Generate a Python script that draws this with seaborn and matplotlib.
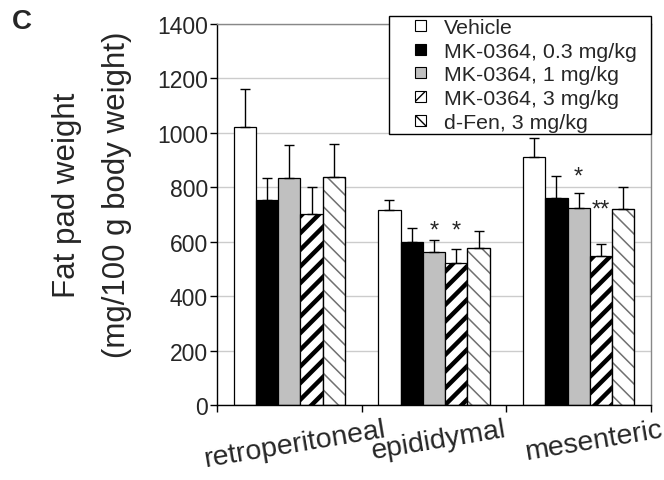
import pandas as pd
import seaborn as sns
import matplotlib.pyplot as plt
from matplotlib.patches import Patch, Rectangle
from matplotlib.legend_handler import HandlerPatch
from matplotlib.transforms import ScaledTranslation

depots = ['retroperitoneal', 'epididymal', 'mesenteric']
groups = ['Vehicle', 'MK-0364, 0.3 mg/kg', 'MK-0364, 1 mg/kg', 'MK-0364, 3 mg/kg', 'd-Fen, 3 mg/kg']

# mean fat pad weight per group, one list per depot (mg/100 g bw)
retro_mean = [1020, 753, 835, 702, 839]
epid_mean = [717, 598, 564, 523, 578]
mes_mean = [913, 762, 725, 547, 720]

# SEM (upper error bar only)
retro_sem = [142, 82, 119, 100, 120]
epid_sem = [35, 54, 42, 52, 63]
mes_sem = [68, 81, 55, 44, 82]

# significance marks: depot, group, label, baseline height
star_depot = ['epididymal', 'epididymal', 'mesenteric', 'mesenteric']
star_group = ['MK-0364, 1 mg/kg', 'MK-0364, 3 mg/kg', 'MK-0364, 1 mg/kg', 'MK-0364, 3 mg/kg']
star_label = ['*', '*', '*', '**']
star_y = [620, 620, 819, 698]

rows = []
for d, means, sems in zip(depots, [retro_mean, epid_mean, mes_mean], [retro_sem, epid_sem, mes_sem]):
    for g, m, s in zip(groups, means, sems):
        rows.append({'depot': d, 'group': g, 'weight': m, 'sem': s})
df = pd.DataFrame(rows)

sns.set_style('white')
plt.rcParams['font.family'] = ['Liberation Sans', 'DejaVu Sans']
plt.rcParams['hatch.linewidth'] = 1.0

fig = plt.figure(figsize=(6.64, 4.81), dpi=100)
ax = fig.add_axes([217/664, 75/481, 434/664, 381/481])

face = ['white', 'black', '#c0c0c0', 'white', 'white']
sns.barplot(data=df, x='depot', y='weight', hue='group', order=depots, hue_order=groups,
            palette=face, saturation=1, width=0.77, errorbar=None, legend=False,
            edgecolor='black', linewidth=0.9, ax=ax)

bar_conts = list(ax.containers)
hatches = [None, None, None, '//', '\\\\']
hatch_lw = [1, 1, 1, 3.2, 1.1]
for i, cont in enumerate(bar_conts):
    for j, bar in enumerate(cont):
        if hatches[i]:
            bar.set_hatch(hatches[i])
            if hasattr(bar, 'set_hatch_linewidth'):
                bar.set_hatch_linewidth(hatch_lw[i])
        if i == 4:
            # grey hatch, black outline drawn on top
            bar.set_edgecolor('#707070')
            ax.add_patch(Rectangle(bar.get_xy(), bar.get_width(), bar.get_height(),
                                   fill=False, edgecolor='black', linewidth=0.9, zorder=bar.get_zorder() + 0.1))
        sub = df[(df['depot'] == depots[j]) & (df['group'] == groups[i])]
        xc = bar.get_x() + bar.get_width() / 2
        ax.errorbar(xc, bar.get_height(), yerr=[[0], [sub['sem'].iloc[0]]], fmt='none',
                    ecolor='black', elinewidth=1, capsize=3.3, capthick=1, zorder=3)

for d, g, lab, y in zip(star_depot, star_group, star_label, star_y):
    bar = bar_conts[groups.index(g)][depots.index(d)]
    ax.text(bar.get_x() + bar.get_width() / 2, y, lab, ha='center', va='baseline', fontsize=17, zorder=3)

ax.set_ylim(0, 1400)
ax.set_xlim(-0.5, 2.5)
ax.set_yticks(range(0, 1401, 200))
ax.yaxis.grid(True, color='#cccccc', linewidth=1)
ax.set_axisbelow(True)
ax.set_xlabel('')
ax.set_ylabel('')

ax.set_xticks([-0.5, 0.5, 1.5, 2.5])
ax.set_xticklabels([])
ax.set_xticks([0, 1, 2], minor=True)
ax.set_xticklabels(depots, minor=True, rotation=9.5, fontsize=20.5)
ax.tick_params(axis='x', which='major', direction='out', length=5, width=1, color='black', bottom=True)
ax.tick_params(axis='x', which='minor', length=0, pad=8)
ax.tick_params(axis='y', direction='out', length=5, width=1, color='black', labelsize=16.5, pad=1.5, left=True)
for lab, dx in zip(ax.get_xticklabels(minor=True), [5, 5, 15]):
    lab.set_transform(lab.get_transform() + ScaledTranslation(dx / 100, 0, fig.dpi_scale_trans))

for side in ['left', 'bottom']:
    ax.spines[side].set_color('black')
    ax.spines[side].set_linewidth(1)
for side in ['top', 'right']:
    ax.spines[side].set_visible(True)
    ax.spines[side].set_color('#888888')
    ax.spines[side].set_linewidth(1)


def small_square(legend, orig_handle, xdescent, ydescent, width, height, fontsize):
    s = 0.52 * fontsize
    return Rectangle((-xdescent + width - s, -ydescent + (height - s) / 2), s, s)


handles = []
for i, g in enumerate(groups):
    p = Patch(facecolor=face[i], edgecolor='black', linewidth=0.8, hatch=hatches[i])
    handles.append(p)
leg = ax.legend(handles, groups, loc='upper right', bbox_to_anchor=(637/664, 1 - 19/481),
                bbox_transform=fig.transFigure, borderaxespad=0, fontsize=15.4,
                frameon=False, handler_map={Patch: HandlerPatch(patch_func=small_square)},
                handlelength=1.0, handleheight=0.7, handletextpad=0.85,
                labelspacing=0.22, borderpad=0.0)
leg.set_zorder(6)
# legend box, wider on the left as in the original
ax.add_patch(Rectangle((389/664, 1 - 135/481), 262/664, 118/481, transform=fig.transFigure,
                       facecolor='white', edgecolor='black', linewidth=1, zorder=5.5, clip_on=False))

fig.text(67/664, 1 - 195/481, 'Fat pad weight', rotation=90, ha='center', va='center', fontsize=22.5)
fig.text(117/664, 1 - 195/481, '(mg/100 g body weight)', rotation=90, ha='center', va='center', fontsize=22.5)
fig.text(12/664, 1 - 29/481, 'C', fontsize=20, fontweight='bold', va='baseline')

fig.savefig('out.png', dpi=100)
